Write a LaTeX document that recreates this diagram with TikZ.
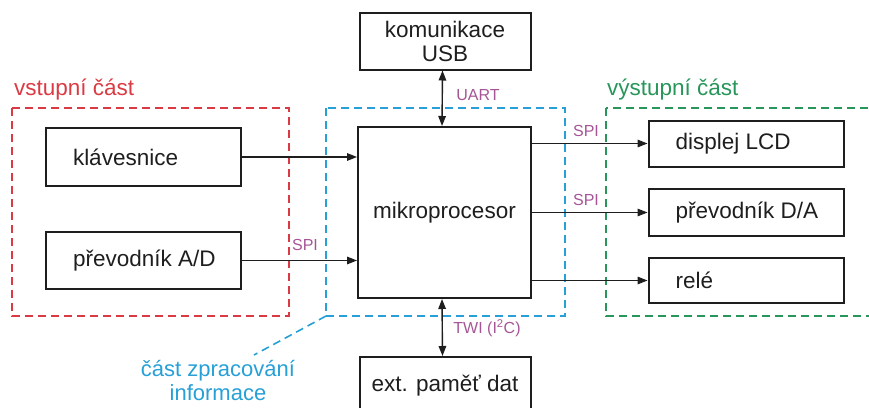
\documentclass[tikz,border=0pt]{standalone}
\usepackage{fontspec}
\setmainfont{Liberation Sans}
\usetikzlibrary{arrows.meta}
\definecolor{cred}{RGB}{218,58,68}
\definecolor{cblue}{RGB}{38,160,215}
\definecolor{cgreen}{RGB}{40,150,90}
\definecolor{cpurple}{RGB}{165,85,150}
\definecolor{cdark}{RGB}{30,30,30}
\newcommand{\lefttxt}[1]{\makebox[141pt][l]{#1}}
\tikzset{
  blk/.style={draw=cdark, line width=2pt, rectangle, text=cdark,
    font=\fontsize{22.5}{25}\selectfont},
  leftblk/.style={blk, inner xsep=27pt, minimum width=195pt},
  grp/.style={line width=1.6pt, dash pattern=on 8pt off 5pt},
  conn/.style={draw=cdark, line width=1.4pt, -{Triangle[length=10pt,width=7.5pt]}},
  bconn/.style={draw=cdark, line width=1.4pt, {Triangle[length=10pt,width=7.5pt]}-{Triangle[length=10pt,width=7.5pt]}},
  bus/.style={text=cpurple, font=\fontsize{16}{18}\selectfont, inner sep=0pt},
  grplabel/.style={font=\fontsize{22.5}{26}\selectfont, inner sep=0pt},
}
\begin{document}
\begin{tikzpicture}[x=1pt,y=-1pt]
\useasboundingbox (0,0) rectangle (869,407);
\clip (0,0) rectangle (869,407);
% group boxes
\draw[grp, draw=cred] (12,108) rectangle (289,316);
\draw[grp, draw=cblue] (326,108) rectangle (565,316);
\draw[grp, draw=cgreen] (606,108) rectangle (880,316);
\coordinate (bc) at (326,316);
\coordinate (be) at (254,355);
\draw[grp, draw=cblue] (bc) -- (be);
% group labels
\node[grplabel, text=cred, anchor=west] (lin) at (14,90) {vstupní část};
\node[grplabel, text=cgreen, anchor=west] (lout) at (607,90) {výstupní část};
\node[grplabel, text=cblue, align=center, font=\fontsize{22}{24}\selectfont] (lproc) at (218,381) {část zpracování\\informace};
% blocks
\node[leftblk, minimum height=58pt] (kl) at (143.5,157) {\lefttxt{klávesnice}};
\node[leftblk, minimum height=57pt] (ad) at (143.5,260.5) {\lefttxt{převodník A/D}};
\node[blk, minimum width=173pt, minimum height=171pt] (mp) at (444.5,212.5) {mikroprocesor};
\node[blk, minimum width=171pt, minimum height=57pt, align=center, font=\fontsize{22.5}{24}\selectfont] (usb) at (445,41) {komunikace\\USB};
\node[blk, minimum width=171pt, minimum height=58pt] (ext) at (445,386) {ext. paměť dat};
\node[leftblk, minimum height=46pt] (lcd) at (746,143.5) {\lefttxt{displej LCD}};
\node[leftblk, minimum height=47pt] (da) at (746,212.5) {\lefttxt{převodník D/A}};
\node[leftblk, minimum height=45pt] (rele) at (746,280.5) {\lefttxt{relé}};
% connectors
\draw[conn] (kl.east) -- (kl.east -| mp.west);
\draw[conn] (ad.east) -- (ad.east -| mp.west);
\draw[conn] (mp.east |- lcd.west) -- (lcd.west);
\draw[conn] (mp.east |- da.west) -- (da.west);
\draw[conn] (mp.east |- rele.west) -- (rele.west);
\draw[bconn] ([xshift=-2.5pt]usb.south) -- ([xshift=-2.5pt]mp.north);
\draw[bconn] ([xshift=-2.5pt]mp.south) -- ([xshift=-2.5pt]ext.north);
% bus labels
\node[bus] (b1) at (305,245) {SPI};
\node[bus] (b2) at (586,131) {SPI};
\node[bus] (b3) at (586,200) {SPI};
\node[bus] (b4) at (478,95) {UART};
\node[bus] (b5) at (487,328) {TWI (I\textsuperscript{2}C)};
\end{tikzpicture}
\end{document}
